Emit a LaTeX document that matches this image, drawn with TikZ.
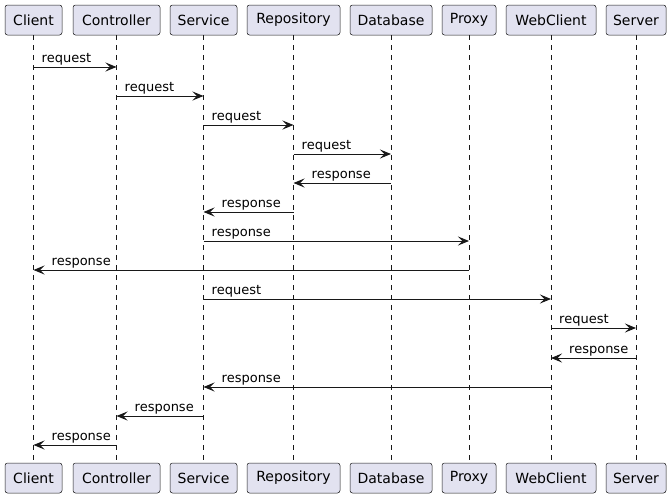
\documentclass[tikz,border=0pt]{standalone}
\usepackage{fontspec}
\setmainfont{DejaVu Sans}
\usetikzlibrary{arrows.meta}
\definecolor{boxfill}{HTML}{E2E2F0}
\definecolor{ink}{HTML}{181818}
\tikzset{
  part/.style={draw=ink, fill=boxfill, rounded corners=2.5pt, line width=0.5pt, minimum height=30pt, inner xsep=6.5pt, font=\fontsize{14}{16}\selectfont, text=black},
  life/.style={draw=ink, line width=0.5pt, dash pattern=on 5pt off 5pt},
  msg/.style={draw=ink, line width=1pt, -{Stealth[length=11pt, width=9pt, inset=4.5pt]}},
  lab/.style={font=\fontsize{13}{15}\selectfont, inner sep=0pt, anchor=base west, text=black},
}
\begin{document}
\begin{tikzpicture}[x=1pt, y=-1pt]
\useasboundingbox (0,0) rectangle (672,498);
% top participants
\node[part, minimum width=57pt] (tCl) at (33.5,20) {Client};
\node[part, minimum width=87pt] (tCo) at (116.5,20) {Controller};
\node[part, minimum width=67pt] (tSe) at (203.5,20) {Service};
\node[part, minimum width=93pt] (tRe) at (293.5,20) {Repository};
\node[part, minimum width=82pt] (tDb) at (391,20) {Database};
\node[part, minimum width=54pt] (tPr) at (469,20) {Proxy};
\node[part, minimum width=90pt] (tWc) at (551,20) {WebClient};
\node[part, minimum width=60pt] (tSv) at (636,20) {Server};
% bottom participants
\node[part, minimum width=57pt] (bCl) at (33.5,478) {Client};
\node[part, minimum width=87pt] (bCo) at (116.5,478) {Controller};
\node[part, minimum width=67pt] (bSe) at (203.5,478) {Service};
\node[part, minimum width=93pt] (bRe) at (293.5,478) {Repository};
\node[part, minimum width=82pt] (bDb) at (391,478) {Database};
\node[part, minimum width=54pt] (bPr) at (469,478) {Proxy};
\node[part, minimum width=90pt] (bWc) at (551,478) {WebClient};
\node[part, minimum width=60pt] (bSv) at (636,478) {Server};
% lifelines
\foreach \n in {Cl,Co,Se,Re,Db,Pr,Wc,Sv}{
  \draw[life] (t\n.south) -- (b\n.north);
}
% messages: \msgR{from}{to}{y}{label} (left to right), \msgL (right to left)
\newcommand{\msgR}[4]{%
  \draw[msg] (t#1 |- 0,#3) -- (t#2 |- 0,#3);
  \node[lab] at ([xshift=8pt]t#1 |- 0,#3-5) {#4};}
\newcommand{\msgL}[4]{%
  \draw[msg] (t#1 |- 0,#3) -- (t#2 |- 0,#3);
  \node[lab] at ([xshift=18pt]t#2 |- 0,#3-5) {#4};}
\msgR{Cl}{Co}{67}{request}
\msgR{Co}{Se}{96}{request}
\msgR{Se}{Re}{125}{request}
\msgR{Re}{Db}{154}{request}
\msgL{Db}{Re}{183}{response}
\msgL{Re}{Se}{212}{response}
\msgR{Se}{Pr}{241}{response}
\msgL{Pr}{Cl}{270}{response}
\msgR{Se}{Wc}{299}{request}
\msgR{Wc}{Sv}{328}{request}
\msgL{Sv}{Wc}{358}{response}
\msgL{Wc}{Se}{387}{response}
\msgL{Se}{Co}{416}{response}
\msgL{Co}{Cl}{445}{response}
\end{tikzpicture}
\end{document}
